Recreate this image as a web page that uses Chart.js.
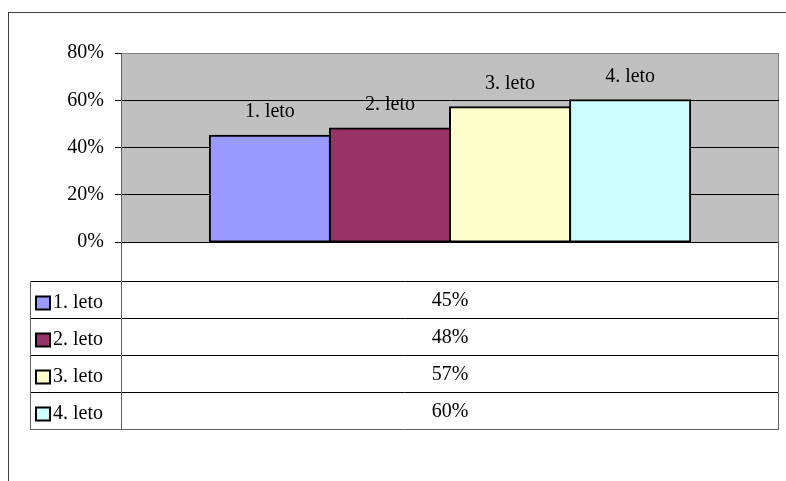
<!DOCTYPE html>
<html>
<head>
<meta charset="utf-8">
<script src="https://cdn.jsdelivr.net/npm/chart.js@4/dist/chart.umd.min.js"></script>
<style>
  body { margin: 0; background: #fff; }
  canvas { display: block; }
</style>
</head>
<body>
<canvas id="chart" width="786" height="481"></canvas>
<script>
// Share per school year
const years = ['1. leto', '2. leto', '3. leto', '4. leto'];
const shares = [45, 48, 57, 60];
const colors = ['#9999FF', '#993366', '#FFFFCC', '#CCFFFF'];
const yTicks = [0, 20, 40, 60, 80];

const FONT = "'Liberation Serif', 'Times New Roman', serif";
const FONT_SIZE = 20;

// Grey plot area and outer frame
const backdrop = {
    id: 'backdrop',
    beforeDraw(chart) {
        const { ctx, chartArea: a } = chart;
        ctx.save();
        ctx.strokeStyle = '#404040';
        ctx.lineWidth = 1;
        ctx.strokeRect(8.5, 12.5, 900, 600);
        ctx.fillStyle = '#C0C0C0';
        ctx.fillRect(a.left, a.top, a.right - a.left, a.bottom - a.top);
        ctx.strokeStyle = '#808080';
        ctx.strokeRect(a.left + 0.5, a.top + 0.5, a.right - a.left - 1, a.bottom - a.top);
        ctx.restore();
    }
};

// Series name above each bar
const barLabels = {
    id: 'barLabels',
    afterDatasetsDraw(chart) {
        const { ctx } = chart;
        ctx.save();
        ctx.font = FONT_SIZE + 'px ' + FONT;
        ctx.fillStyle = '#000';
        ctx.textAlign = 'center';
        ctx.textBaseline = 'middle';
        chart.data.datasets.forEach((ds, i) => {
            const bar = chart.getDatasetMeta(i).data[0];
            ctx.fillText(ds.label, bar.x, bar.y - 24);
        });
        ctx.restore();
    }
};

// Data table under the plot
const dataTable = {
    id: 'dataTable',
    afterDraw(chart) {
        const { ctx, chartArea: a } = chart;
        const firstRow = 39, rowH = 37, keyLeft = 30;
        const top = a.bottom + firstRow;
        const bottom = top + rowH * years.length;
        const mid = (a.left + a.right) / 2;
        ctx.save();
        ctx.lineWidth = 1;
        // row lines
        for (let r = 0; r <= years.length; r++) {
            const y = Math.round(top + r * rowH) + 0.5;
            ctx.strokeStyle = r === years.length ? '#606060' : '#000';
            ctx.beginPath();
            ctx.moveTo(keyLeft, y);
            ctx.lineTo(a.right, y);
            ctx.stroke();
        }
        // verticals
        ctx.strokeStyle = '#606060';
        ctx.beginPath();
        ctx.moveTo(keyLeft + 0.5, top);
        ctx.lineTo(keyLeft + 0.5, bottom);
        ctx.moveTo(a.left + 0.5, a.bottom);
        ctx.lineTo(a.left + 0.5, bottom);
        ctx.moveTo(a.right - 0.5, a.bottom);
        ctx.lineTo(a.right - 0.5, bottom);
        ctx.stroke();

        ctx.font = FONT_SIZE + 'px ' + FONT;
        ctx.textBaseline = 'middle';
        chart.data.datasets.forEach((ds, i) => {
            const cy = top + i * rowH + rowH / 2;
            // legend key
            ctx.fillStyle = ds.backgroundColor;
            ctx.fillRect(36, cy - 3, 14, 13);
            ctx.strokeStyle = '#000';
            ctx.lineWidth = 2;
            ctx.strokeRect(36, cy - 3, 14, 13);
            ctx.fillStyle = '#000';
            ctx.textAlign = 'left';
            ctx.fillText(ds.label, 53, cy + 3);
            ctx.textAlign = 'center';
            ctx.fillText(ds.data[0] + '%', mid, cy + 1);
        });
        ctx.restore();
    }
};

new Chart(document.getElementById('chart'), {
    type: 'bar',
    data: {
        labels: [''],
        datasets: years.map((name, i) => ({
            label: name,
            data: [shares[i]],
            backgroundColor: colors[i],
            borderColor: '#000',
            borderWidth: 2,
            borderSkipped: false,
            inflateAmount: 1
        }))
    },
    options: {
        responsive: false,
        animation: false,
        layout: { padding: { top: 53, right: 7, bottom: 239, left: 0 } },
        categoryPercentage: 0.73,
        barPercentage: 1,
        plugins: {
            legend: { display: false },
            tooltip: { enabled: false }
        },
        scales: {
            x: { display: false },
            y: {
                min: 0,
                max: 80,
                afterFit(scale) { scale.width = 121; },
                afterBuildTicks(scale) { scale.ticks = yTicks.map(v => ({ value: v })); },
                ticks: {
                    padding: 11,
                    color: '#000',
                    font: { family: FONT, size: FONT_SIZE },
                    callback: v => v + '%'
                },
                grid: {
                    color: c => (c.tick && c.tick.value === 80 ? '#808080' : '#000'),
                    tickLength: 6,
                    tickColor: '#000'
                },
                border: { color: '#606060' }
            }
        }
    },
    plugins: [backdrop, barLabels, dataTable]
});
</script>
</body>
</html>
